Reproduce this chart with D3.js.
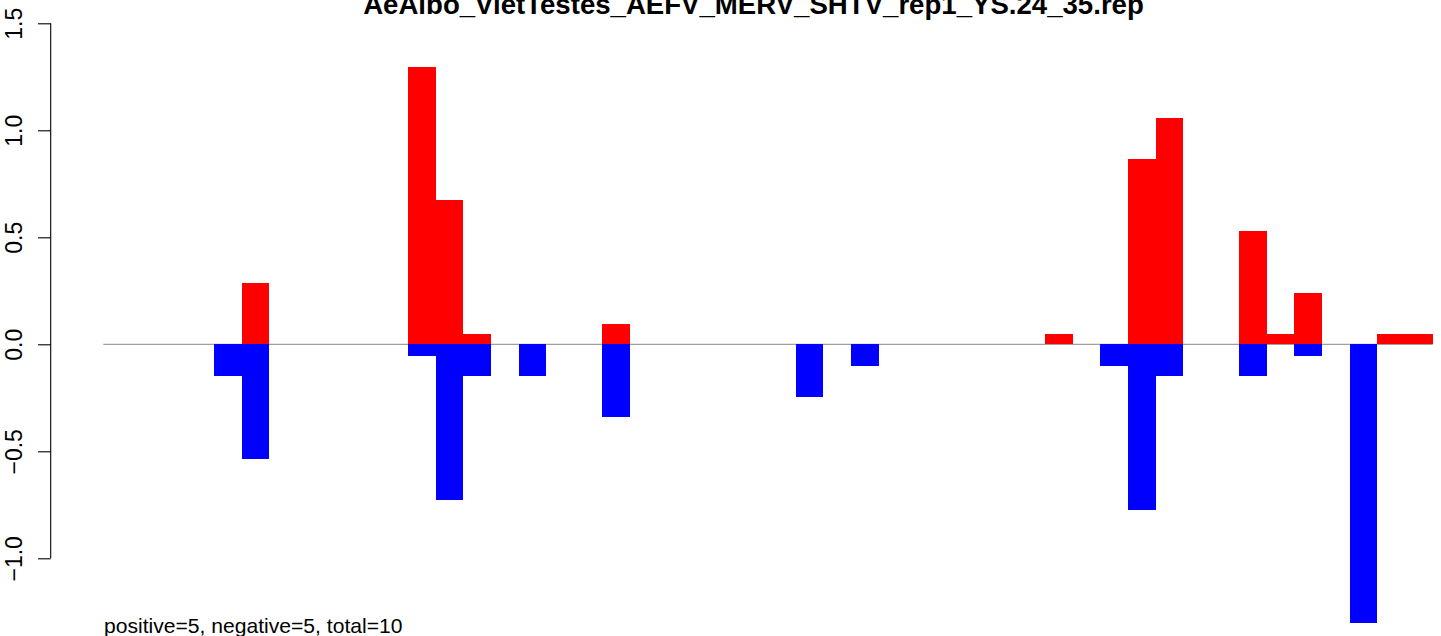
<!DOCTYPE html>
<html>
<head>
<meta charset="utf-8">
<script src="https://cdn.jsdelivr.net/npm/d3@7"></script>
<style>
  html, body { margin: 0; padding: 0; background: #fff; }
  svg { display: block; font-family: "Liberation Sans", Arial, Helvetica, sans-serif; }
</style>
</head>
<body>
<svg id="chart" width="1441" height="636"></svg>
<script>
const title = "AeAlbo_VietTestes_AEFV_MERV_SHTV_rep1_YS.24_35.rep";
const footer = "positive=5, negative=5, total=10";
const slots = d3.range(48);
const positiveValues = [
  0, 0, 0, 0, 0, 0.286, 0, 0, 0, 0,
  0, 1.296, 0.674, 0.048, 0, 0, 0, 0, 0.095, 0,
  0, 0, 0, 0, 0, 0, 0, 0, 0, 0,
  0, 0, 0, 0, 0.048, 0, 0, 0.866, 1.058, 0,
  0, 0.529, 0.048, 0.240, 0, 0, 0.048, 0.048
];
const negativeValues = [
  0, 0, 0, 0, -0.148, -0.536, 0, 0, 0, 0,
  0, -0.055, -0.728, -0.148, 0, -0.148, 0, 0, -0.340, 0,
  0, 0, 0, 0, 0, -0.246, 0, -0.101, 0, 0,
  0, 0, 0, 0, 0, 0, -0.101, -0.774, -0.148, 0,
  0, -0.148, 0, -0.055, 0, -1.301, 0, 0
];
const yTicks = [-1.0, -0.5, 0.0, 0.5, 1.0, 1.5];

const svg = d3.select("#chart");
const x = d3.scaleBand().domain(slots).range([103.3, 1432.7]).padding(0);
const y = d3.scaleLinear().domain([-1, 1.5]).range([558.3, 23.3]);

// zero line
svg.append("line")
  .attr("x1", x.range()[0]).attr("x2", x.range()[1])
  .attr("y1", y(0)).attr("y2", y(0))
  .attr("stroke", "#a0a0a0").attr("stroke-width", 1.2);

// positive bars
svg.append("g").attr("shape-rendering", "crispEdges").selectAll("rect")
  .data(slots.filter(i => positiveValues[i] > 0))
  .join("rect")
  .attr("x", i => x(i)).attr("width", x.bandwidth())
  .attr("y", i => y(positiveValues[i]))
  .attr("height", i => y(0) - y(positiveValues[i]))
  .attr("fill", "#ff0000");

// negative bars
svg.append("g").attr("shape-rendering", "crispEdges").selectAll("rect")
  .data(slots.filter(i => negativeValues[i] < 0))
  .join("rect")
  .attr("x", i => x(i)).attr("width", x.bandwidth())
  .attr("y", y(0))
  .attr("height", i => y(negativeValues[i]) - y(0))
  .attr("fill", "#0000ff");

// y axis
const axis = d3.axisLeft(y).tickValues(yTicks).tickFormat(d3.format(".1f")).tickSizeOuter(0).tickSize(12.7);
const gAxis = svg.append("g").attr("transform", "translate(50.7,0)").call(axis);
gAxis.select(".domain").attr("stroke", "#000").attr("stroke-width", 1.1)
  .attr("d", `M0,${y(-1)}V${y(1.5)}`);
gAxis.selectAll(".tick line").attr("stroke", "#000").attr("stroke-width", 1.1);
gAxis.selectAll(".tick text")
  .attr("font-size", 23)
  .attr("fill", "#000")
  .attr("x", null).attr("dy", null)
  .attr("text-anchor", "middle")
  .attr("transform", "translate(-28.5,0) rotate(-90)")
  .attr("y", 0)
  .text(d => d3.format(".1f")(d).replace("-", "\u2212"));

// title
svg.append("text")
  .attr("x", 753.5).attr("y", 14)
  .attr("text-anchor", "middle")
  .attr("font-size", 27.6).attr("font-weight", "bold")
  .text(title);

// footer
svg.append("text")
  .attr("x", 104).attr("y", 633)
  .attr("font-size", 21.1)
  .text(footer);
</script>
</body>
</html>
